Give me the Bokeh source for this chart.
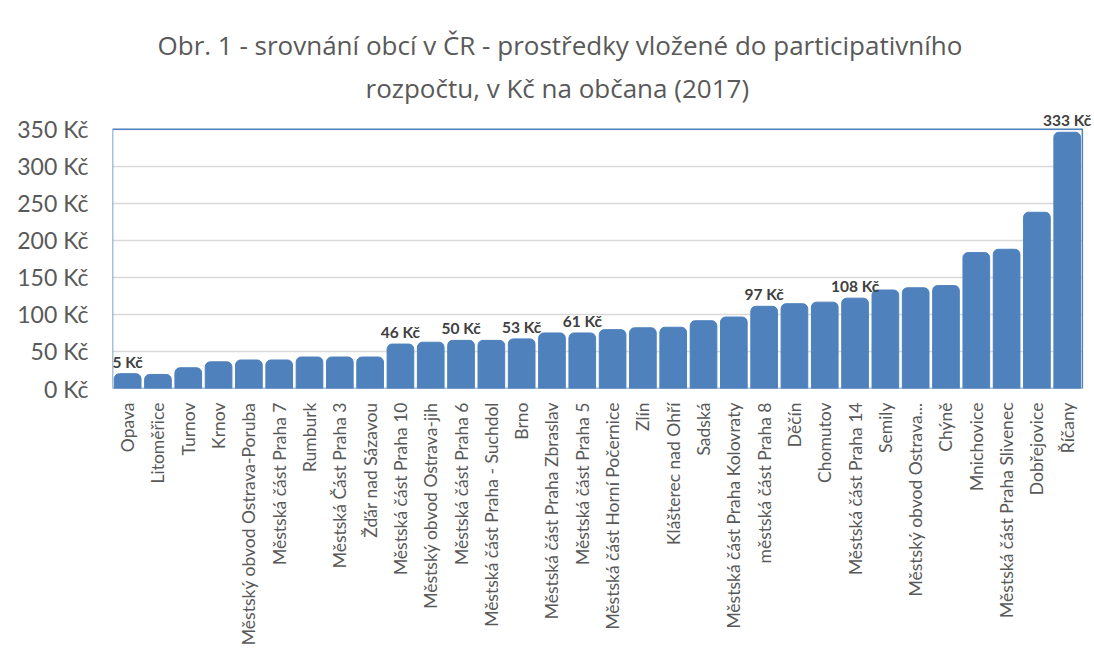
from bokeh.plotting import figure
from bokeh.models import (ColumnDataSource, LabelSet, FixedTicker,
                          PrintfTickFormatter, Range1d, Title)
from bokeh.core.properties import value
from bokeh.embed import file_html
from bokeh.resources import INLINE
import math

categories = [
    "Opava", "Litoměřice", "Turnov", "Krnov", "Městský obvod Ostrava-Poruba",
    "Městská část Praha 7", "Rumburk", "Městská Část Praha 3", "Žďár nad Sázavou",
    "Městská část Praha 10", "Městský obvod Ostrava-jih", "Městská část Praha 6",
    "Městská část Praha - Suchdol", "Brno", "Městská část Praha Zbraslav",
    "Městská část Praha 5", "Městská část Horní Počernice", "Zlín",
    "Klášterec nad Ohří", "Sadská", "Městská část Praha Kolovraty",
    "městská část Praha 8", "Děčín", "Chomutov", "Městská část Praha 14",
    "Semily", "Městský obvod Ostrava...", "Chýně", "Mnichovice",
    "Městská část Praha Slivenec", "Dobřejovice", "Říčany",
]
values = [
    20, 19, 28, 36, 38.5, 38.5, 42.5, 42.5, 42.5,
    60, 62.5, 65, 65, 67, 75, 75, 79.5, 82, 82.7, 91.5, 96.5,
    111, 114.5, 116.6, 122, 133, 136, 139, 183.5, 188, 238, 346,
]
value_labels = [
    "5 Kč", "", "", "", "", "", "", "", "",
    "46 Kč", "", "50 Kč", "", "53 Kč", "", "61 Kč", "", "", "", "", "",
    "97 Kč", "", "", "108 Kč", "", "", "", "", "", "", "333 Kč",
]
y_ticks = [0, 50, 100, 150, 200, 250, 300, 350]
y_max = 350
title_line1 = "Obr. 1 - srovnání obcí v ČR - prostředky vložené do participativního"
title_line2 = "rozpočtu, v Kč na občana (2017)"

n = len(categories)
xs = list(range(n))
src = ColumnDataSource(dict(x=xs, val=values))
lab_idx = [i for i, t in enumerate(value_labels) if t]
lab_src = ColumnDataSource(dict(
    x=[xs[i] for i in lab_idx],
    val=[values[i] for i in lab_idx],
    txt=[value_labels[i] for i in lab_idx],
))

# frame extends a little above / right of the plot box so the top label fits
p = figure(
    x_range=Range1d(-0.5, n - 0.5 + 0.4),
    y_range=Range1d(0, y_max + 22.7),
    width=1094, height=648,
    output_backend="svg", toolbar_location=None,
)
p.min_border_left = 112
p.min_border_right = 0
p.min_border_top = 112
p.min_border_bottom = 257
p.outline_line_color = None

t2 = Title(text=title_line2, align="left", offset=253,
           text_font="Open Sans", text_font_size="26px",
           text_font_style="normal", text_color="#595959", standoff=14)
t1 = Title(text=title_line1, align="left", offset=45,
           text_font="Open Sans", text_font_size="26px",
           text_font_style="normal", text_color="#595959", standoff=-4)
p.add_layout(t2, "above")
p.add_layout(t1, "above")

p.vbar(x="x", top="val", width=0.88, source=src, color="#4F81BD",
       border_radius=(5, 5, 0, 0))

# blue plot-area border (box from first to last category, 0 to y_max)
p.quad(left=[xs[0] - 0.5], right=[xs[-1] + 0.5], bottom=[0], top=[y_max],
       fill_color=None, line_color="#4F81BD", line_width=1.5)

labels = LabelSet(x="x", y="val", text="txt", source=lab_src,
                  y_offset=3, text_align="center", text_baseline="bottom",
                  text_font=value("Lato"), text_font_size="15.5px",
                  text_font_style="bold", text_color="#404040")
p.add_layout(labels)

p.xgrid.visible = False
p.ygrid.grid_line_color = "#d9d9d9"
p.ygrid.grid_line_width = 1.5
p.ygrid.cross_bounds = (-0.5, n - 0.5)
p.ygrid.ticker = FixedTicker(ticks=y_ticks)

p.yaxis.ticker = FixedTicker(ticks=y_ticks)
p.yaxis.formatter = PrintfTickFormatter(format="%d Kč")
p.yaxis.axis_line_color = None
p.yaxis.major_tick_line_color = None
p.yaxis.minor_tick_line_color = None
p.yaxis.major_label_text_font = "Lato"
p.yaxis.major_label_text_font_size = "23px"
p.yaxis.major_label_text_color = "#595959"
p.yaxis.major_label_standoff = 18

p.xaxis.ticker = FixedTicker(ticks=xs)
p.xaxis.major_label_overrides = {i: c for i, c in zip(xs, categories)}
p.xaxis.axis_line_color = None
p.xaxis.major_tick_line_color = None
p.xaxis.minor_tick_line_color = None
p.xaxis.major_label_orientation = math.pi / 2
p.xaxis.major_label_text_font = "Lato"
p.xaxis.major_label_text_font_size = "17.5px"
p.xaxis.major_label_text_color = "#595959"
p.xaxis.major_label_standoff = 8

open("out.html", "w").write(file_html(p, INLINE))
